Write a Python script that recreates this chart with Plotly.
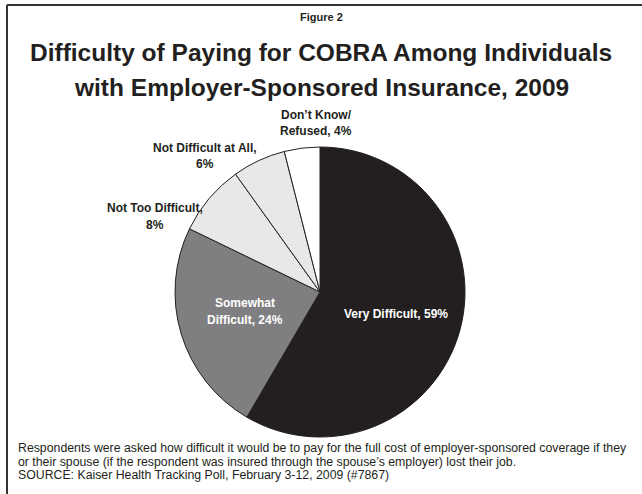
import plotly.graph_objects as go

# Survey responses, clockwise from 12 o'clock
categories = ["Very Difficult", "Somewhat Difficult", "Not Too Difficult",
              "Not Difficult at All", "Don\u2019t Know/ Refused"]
values = [59, 24, 8, 6, 4]
slice_colors = ["#231f20", "#7f7f81", "#e8e8e9", "#e8e8e9", "#ffffff"]

# Label text lines for each slice (value appended from the data)
label_lines = [
    ["Very Difficult, {v}%"],
    ["Somewhat", "Difficult, {v}%"],
    ["Not Too Difficult,", "{v}%"],
    ["Not Difficult at All,", "{v}%"],
    ["Don\u2019t Know/", "Refused, {v}%"],
]
# (center x, first line y) in pixels
label_pos = [(396, 314), (245, 303), (155, 208), (205, 148), (316, 115)]
label_color = ["#ffffff", "#ffffff", "#231f20", "#231f20", "#231f20"]

title_lines = ["Difficulty of Paying for COBRA Among Individuals",
               "with Employer-Sponsored Insurance, 2009"]
footnote_lines = [
    "Respondents were asked how difficult it would be to pay for the full cost of "
    "employer-sponsored coverage if they",
    "or their spouse (if the respondent was insured through the spouse\u2019s "
    "employer) lost their job.",
    "SOURCE: Kaiser Health Tracking Poll, February 3-12, 2009 (#7867)",
]

W, H = 642, 494
cx, cy, r = 320, 292, 145

fig = go.Figure(go.Pie(
    labels=categories,
    values=values,
    sort=False,
    direction="clockwise",
    rotation=0,
    marker=dict(colors=slice_colors, line=dict(color="#231f20", width=1)),
    textinfo="none",
    hoverinfo="skip",
    showlegend=False,
    domain=dict(x=[(cx - r) / W, (cx + r) / W],
                y=[(H - cy - r) / H, (H - cy + r) / H]),
))

font_family = "Liberation Sans, Arial, sans-serif"
annotations = []


def add_text(text, x, y, size, color="#231f20", anchor="center"):
    annotations.append(dict(
        x=x / W, y=1 - y / H, xref="paper", yref="paper",
        text=text, showarrow=False,
        font=dict(family=font_family, size=size, color=color),
        xanchor=anchor, yanchor="middle", align=anchor,
    ))


for lines, v, (x, y), col in zip(label_lines, values, label_pos, label_color):
    for i, line in enumerate(lines):
        add_text("<b>" + line.format(v=v) + "</b>", x, y + 16.5 * i, 12, col)

# Header
add_text("<b>Figure 2</b>", 321, 17, 11)
for i, line in enumerate(title_lines):
    add_text("<b>" + line + "</b>", 321, 53 + 34 * i, 24.5)

# Footnote
for i, line in enumerate(footnote_lines):
    add_text(line, 16, 448 + 13.5 * i, 12.3, anchor="left")

# Frame: top rule and left rule
shapes = [
    dict(type="line", xref="paper", yref="paper",
         x0=7 / W, x1=1, y0=1 - 5 / H, y1=1 - 5 / H,
         line=dict(color="#333333", width=2)),
    dict(type="line", xref="paper", yref="paper",
         x0=7 / W, x1=7 / W, y0=1 - 5 / H, y1=0,
         line=dict(color="#333333", width=2)),
]

fig.update_layout(
    width=W, height=H,
    margin=dict(l=0, r=0, t=0, b=0),
    paper_bgcolor="#ffffff",
    plot_bgcolor="#ffffff",
    annotations=annotations,
    shapes=shapes,
)

fig.write_html("out.html")
